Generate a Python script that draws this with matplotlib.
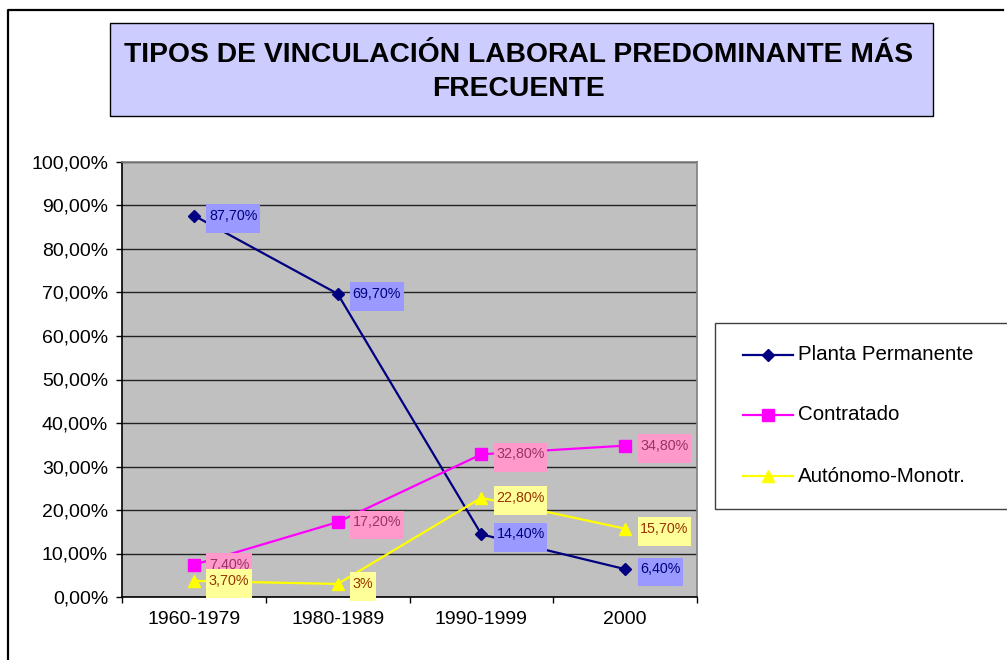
import matplotlib
matplotlib.use("Agg")
import matplotlib.pyplot as plt
from matplotlib.patches import Rectangle
from matplotlib.lines import Line2D
from matplotlib.path import Path
from matplotlib.ticker import FixedLocator, FuncFormatter

# ---------------- data ----------------
categories = ["1960-1979", "1980-1989", "1990-1999", "2000"]
series_names = ["Planta Permanente", "Contratado", "Autónomo-Monotr."]
planta = [87.7, 69.7, 14.4, 6.4]
contratado = [7.4, 17.2, 32.8, 34.8]
autonomo = [3.7, 3.0, 22.8, 15.7]
y_ticks = [0, 10, 20, 30, 40, 50, 60, 70, 80, 90, 100]
title = "TIPOS DE VINCULACIÓN LABORAL PREDOMINANTE MÁS\nFRECUENTE"

# ---------------- styles ----------------
plt.rcParams['font.family'] = ['Liberation Sans', 'DejaVu Sans']
W, H = 1007, 660
line_colors = ["#000080", "#FF00FF", "#FFFF00"]
markers = ["D", "s", "^"]
msizes = [6.5, 8.5, 9.0]
label_bg = ["#9999FF", "#FF99CC", "#FFFF99"]
label_fg = ["#000080", "#993366", "#993300"]


def fx(x):
    return x / W


def fy(y):
    return 1 - y / H


fig = plt.figure(figsize=(W / 100, H / 100), dpi=100)
fig.patch.set_facecolor("white")

# outer chart border (left + top visible)
fig.add_artist(Line2D([fx(8), fx(8), fx(1003)], [fy(675), fy(10), fy(10)],
                      transform=fig.transFigure, color="black", lw=1.6))

# title box
fig.add_artist(Rectangle((fx(110), fy(116)), fx(933) - fx(110), fy(23) - fy(116),
                         transform=fig.transFigure, facecolor="#CCCCFF",
                         edgecolor="black", lw=1.0))
fig.text(fx(519), fy(72), title, ha="center", va="center",
         fontsize=20.3, fontweight="bold", linespacing=1.45)

# plot area
ax = fig.add_axes([fx(122), fy(597), fx(697) - fx(122), fy(162) - fy(597)])
ax.set_facecolor("#C0C0C0")
ax.set_xlim(-0.5, len(categories) - 0.5)
ax.set_ylim(0, 100)
ax.set_axisbelow(True)
ax.yaxis.set_major_locator(FixedLocator(y_ticks))
ax.yaxis.set_major_formatter(FuncFormatter(lambda v, p: f"{v:.2f}%".replace(".", ",")))
ax.grid(axis="y", color="#222222", lw=1.0)
ax.set_xticks(range(len(categories)))
ax.set_xticklabels(categories)
ax.set_xticks([i - 0.5 for i in range(len(categories) + 1)], minor=True)
ax.tick_params(axis="x", which="major", length=0, pad=10, labelsize=14)
ax.tick_params(axis="x", which="minor", length=4.5, width=1, direction="out")
ax.tick_params(axis="y", which="major", length=4, width=1, pad=6, labelsize=14)
for s in ["top", "right"]:
    ax.spines[s].set_color("#808080")
    ax.spines[s].set_linewidth(1.2)
for s in ["left", "bottom"]:
    ax.spines[s].set_color("black")
    ax.spines[s].set_linewidth(1.2)


def label_box(x0, y0, width, height, mutation_size):
    padx = 0.18 * mutation_size
    top = 0.32 * mutation_size
    bottom = 0.72 * mutation_size
    xa, xb = x0 - padx, x0 + width + padx
    ya, yb = y0 - bottom, y0 + height + top
    return Path([(xa, ya), (xb, ya), (xb, yb), (xa, yb), (xa, ya)],
                [Path.MOVETO, Path.LINETO, Path.LINETO, Path.LINETO, Path.CLOSEPOLY])


def fmt(v):
    if float(v).is_integer():
        return f"{int(v)}%"
    return f"{v:.2f}%".replace(".", ",")


all_series = [planta, contratado, autonomo]
xs = list(range(len(categories)))
for i, vals in enumerate(all_series):
    ax.plot(xs, vals, color=line_colors[i], lw=1.6, marker=markers[i],
            markersize=msizes[i], markerfacecolor=line_colors[i],
            markeredgecolor=line_colors[i], zorder=3 + i, clip_on=False)
for i, vals in enumerate(all_series):
    for x, v in zip(xs, vals):
        ax.annotate(fmt(v), (x, v), xytext=(15, 0), textcoords="offset pixels",
                    ha="left", va="center", fontsize=10.3, color=label_fg[i],
                    bbox=dict(boxstyle=label_box, facecolor=label_bg[i],
                              edgecolor="none"),
                    zorder=10 + i, annotation_clip=False)

# legend box
fig.add_artist(Rectangle((fx(715), fy(509)), fx(1012) - fx(715), fy(323) - fy(509),
                         transform=fig.transFigure, facecolor="white",
                         edgecolor="#404040", lw=1.0))
leg_y = [355, 415, 476]
for i, name in enumerate(series_names):
    fig.add_artist(Line2D([fx(743), fx(768), fx(793)], [fy(leg_y[i])] * 3,
                          transform=fig.transFigure, color=line_colors[i], lw=1.6,
                          marker=markers[i], markersize=msizes[i], markevery=[1],
                          markerfacecolor=line_colors[i], markeredgecolor=line_colors[i]))
    fig.text(fx(798), fy(leg_y[i]), name, ha="left", va="center", fontsize=14.8)

fig.savefig("out.png", dpi=100)
